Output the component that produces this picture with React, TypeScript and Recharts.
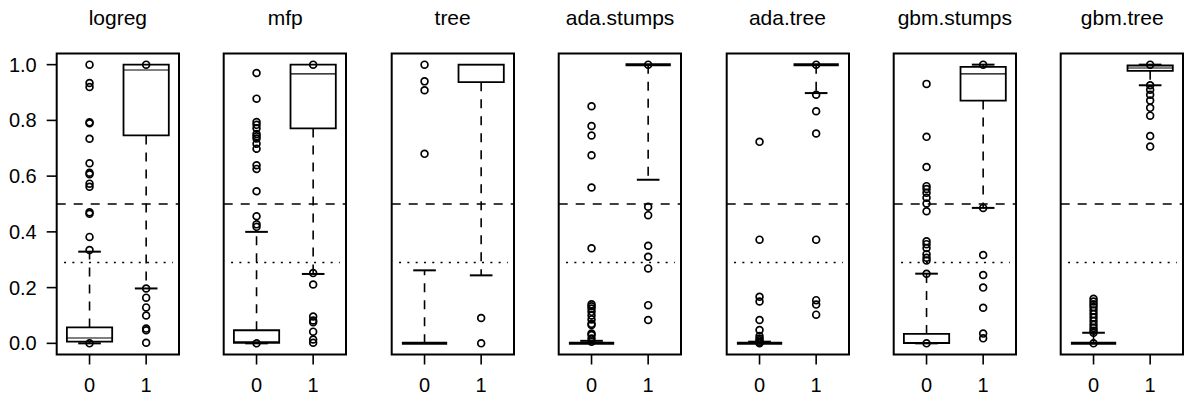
import React from 'react'
import {
  ComposedChart, XAxis, YAxis, Scatter, ReferenceLine, ReferenceArea
} from 'recharts'

const MODELS = ['logreg', 'mfp', 'tree', 'ada.stumps', 'ada.tree', 'gbm.stumps', 'gbm.tree']
const GROUP_X = [1, 2]
const GROUP_LABELS = ['0', '1']
const Y_TICKS = [0, 0.2, 0.4, 0.6, 0.8, 1.0]
const CUTOFF = 0.5
const PREVALENCE = 0.29

// [lower whisker, Q1, median, Q3, upper whisker]
const STATS_0 = [
  [0, 0.006, 0.019, 0.057, 0.329],
  [0, 0.002, 0.006, 0.047, 0.4],
  [0, 0, 0, 0, 0.262],
  [0, 0, 0, 0, 0.009],
  [0, 0, 0, 0, 0.006],
  [0, 0.001, 0.003, 0.034, 0.25],
  [0, 0, 0, 0, 0.038],
]
const STATS_1 = [
  [0.197, 0.746, 0.981, 1.0, 1.0],
  [0.249, 0.771, 0.967, 1.0, 1.0],
  [0.244, 0.937, 1.0, 1.0, 1.0],
  [0.587, 1.0, 1.0, 1.0, 1.0],
  [0.898, 1.0, 1.0, 1.0, 1.0],
  [0.486, 0.871, 0.967, 0.992, 1.0],
  [0.926, 0.978, 0.988, 0.997, 1.0],
]

const OUT_0 = [
  [1.0, 0.934, 0.92, 0.793, 0.79, 0.734, 0.646, 0.612, 0.607, 0.573, 0.562, 0.47, 0.465, 0.382, 0.335, 0.0],
  [0.97, 0.878, 0.794, 0.784, 0.772, 0.751, 0.743, 0.735, 0.716, 0.698, 0.639, 0.626, 0.546, 0.456, 0.427, 0.418, 0.0],
  [1.0, 0.94, 0.908, 0.68],
  [0.851, 0.78, 0.746, 0.675, 0.559, 0.341, 0.14, 0.133, 0.125, 0.113, 0.1, 0.086, 0.07, 0.066, 0.035, 0.03, 0.017, 0.006],
  [0.723, 0.372, 0.167, 0.15, 0.084, 0.048, 0.026, 0.017, 0.011, 0.005, 0.0],
  [0.931, 0.741, 0.633, 0.564, 0.554, 0.54, 0.522, 0.502, 0.474, 0.366, 0.356, 0.342, 0.32, 0.307, 0.297, 0.25, 0.0],
  [0.16, 0.15, 0.14, 0.13, 0.118, 0.105, 0.093, 0.08, 0.067, 0.055, 0.045, 0.038, 0.0],
]
const OUT_1 = [
  [1.0, 0.197, 0.164, 0.129, 0.1, 0.053, 0.047, 0.002],
  [1.0, 0.252, 0.211, 0.096, 0.082, 0.076, 0.042, 0.014, 0.002],
  [0.091, 0.0],
  [1.0, 0.49, 0.46, 0.35, 0.311, 0.269, 0.137, 0.084],
  [1.0, 0.892, 0.833, 0.753, 0.372, 0.155, 0.139, 0.103],
  [1.0, 0.486, 0.317, 0.245, 0.2, 0.128, 0.035, 0.018],
  [1.0, 0.926, 0.91, 0.892, 0.871, 0.845, 0.817, 0.744, 0.706],
]

const X_DOMAIN = [0.42, 2.58]
const Y_DOMAIN = [-0.04, 1.04]

const FONT = '"Liberation Sans", Arial, Helvetica, sans-serif'
const PANEL_LEFT = 56.7
const PANEL_STEP = 167.4
const PANEL_W = 122.3
const PLOT_TOP = 53.5
const PLOT_BOTTOM = 354.5
const CHART_H = 401
const LEFT_SPACE = 56.7
const DASH = '9 8'

function boxParts(s: number[], x: number, k: string) {
  const [lw, q1, med, q3, uw] = s
  const flat = q3 - q1 < 1e-9
  const els: any[] = []
  if (!flat) {
    els.push(
      <ReferenceArea key={k + 'box'} x1={x - 0.4} x2={x + 0.4} y1={q1} y2={q3}
        fill="none" fillOpacity={0} stroke="#000" strokeWidth={1.8} ifOverflow="visible" />
    )
  }
  els.push(
    <ReferenceLine key={k + 'med'} segment={[{ x: x - 0.4, y: med }, { x: x + 0.4, y: med }]}
      stroke="#000" strokeWidth={flat ? 3 : 1.1} ifOverflow="visible" />
  )
  if (uw > q3) {
    els.push(
      <ReferenceLine key={k + 'uw'} segment={[{ x, y: q3 }, { x, y: uw }]}
        stroke="#000" strokeWidth={1.6} strokeDasharray={DASH} ifOverflow="visible" />,
      <ReferenceLine key={k + 'us'} segment={[{ x: x - 0.2, y: uw }, { x: x + 0.2, y: uw }]}
        stroke="#000" strokeWidth={2} ifOverflow="visible" />
    )
  }
  if (lw < q1) {
    els.push(
      <ReferenceLine key={k + 'lw'} segment={[{ x, y: q1 }, { x, y: lw }]}
        stroke="#000" strokeWidth={1.6} strokeDasharray={DASH} ifOverflow="visible" />,
      <ReferenceLine key={k + 'ls'} segment={[{ x: x - 0.2, y: lw }, { x: x + 0.2, y: lw }]}
        stroke="#000" strokeWidth={2} ifOverflow="visible" />
    )
  }
  return els
}

const Ring = (p: any) => (
  <circle cx={p.cx} cy={p.cy} r={3.4} fill="none" stroke="#000" strokeWidth={1.7} />
)

function Panel({ i }: { i: number }) {
  const first = i === 0
  const pts0 = OUT_0[i].map(v => ({ x: GROUP_X[0], y: v }))
  const pts1 = OUT_1[i].map(v => ({ x: GROUP_X[1], y: v }))
  const left = PANEL_LEFT + i * PANEL_STEP
  return (
    <>
      <div style={{
        position: 'absolute', left, top: 7, width: PANEL_W, textAlign: 'center',
        fontFamily: FONT, fontSize: 21, lineHeight: '21px', color: '#000'
      }}>{MODELS[i]}</div>
      <div style={{ position: 'absolute', left: left - LEFT_SPACE, top: 0 }}>
        <ComposedChart
          width={LEFT_SPACE + PANEL_W + 4}
          height={CHART_H}
          margin={{ top: PLOT_TOP, right: 4, bottom: 0, left: first ? 0 : LEFT_SPACE }}
        >
          <XAxis dataKey="x" type="number" domain={X_DOMAIN} allowDataOverflow ticks={GROUP_X}
            tickFormatter={(v: number) => GROUP_LABELS[GROUP_X.indexOf(v)]}
            height={CHART_H - PLOT_BOTTOM} axisLine={false} tickSize={10} tickMargin={13}
            tickLine={{ stroke: '#000', strokeWidth: 1.6 }}
            tick={{ fill: '#000', fontSize: 20, fontFamily: FONT }} interval={0} />
          <YAxis dataKey="y" type="number" domain={Y_DOMAIN} allowDataOverflow ticks={Y_TICKS}
            hide={!first} width={LEFT_SPACE} axisLine={false} tickSize={10} tickMargin={10}
            tickFormatter={(v: number) => v.toFixed(1)}
            tickLine={{ stroke: '#000', strokeWidth: 1.6 }}
            tick={{ fill: '#000', fontSize: 20, fontFamily: FONT }} interval={0} />
          <ReferenceArea x1={X_DOMAIN[0]} x2={X_DOMAIN[1]} y1={Y_DOMAIN[0]} y2={Y_DOMAIN[1]}
            fill="none" fillOpacity={0} stroke="#000" strokeWidth={2} ifOverflow="visible" />
          <ReferenceLine y={CUTOFF} stroke="#000" strokeWidth={1.7} strokeDasharray={DASH} />
          <ReferenceLine segment={[{ x: 0.55, y: PREVALENCE }, { x: 2.47, y: PREVALENCE }]}
            stroke="#000" strokeWidth={1.6} strokeDasharray="2 6.3" ifOverflow="visible" />
          {boxParts(STATS_0[i], GROUP_X[0], 'a')}
          {boxParts(STATS_1[i], GROUP_X[1], 'b')}
          <Scatter data={pts0} shape={Ring} isAnimationActive={false} />
          <Scatter data={pts1} shape={Ring} isAnimationActive={false} />
        </ComposedChart>
      </div>
    </>
  )
}

export default function App() {
  return (
    <div style={{ position: 'absolute', left: 0, top: 0, width: 1184, height: 401, background: '#fff' }}>
      {MODELS.map((m, i) => <Panel key={m} i={i} />)}
    </div>
  )
}
